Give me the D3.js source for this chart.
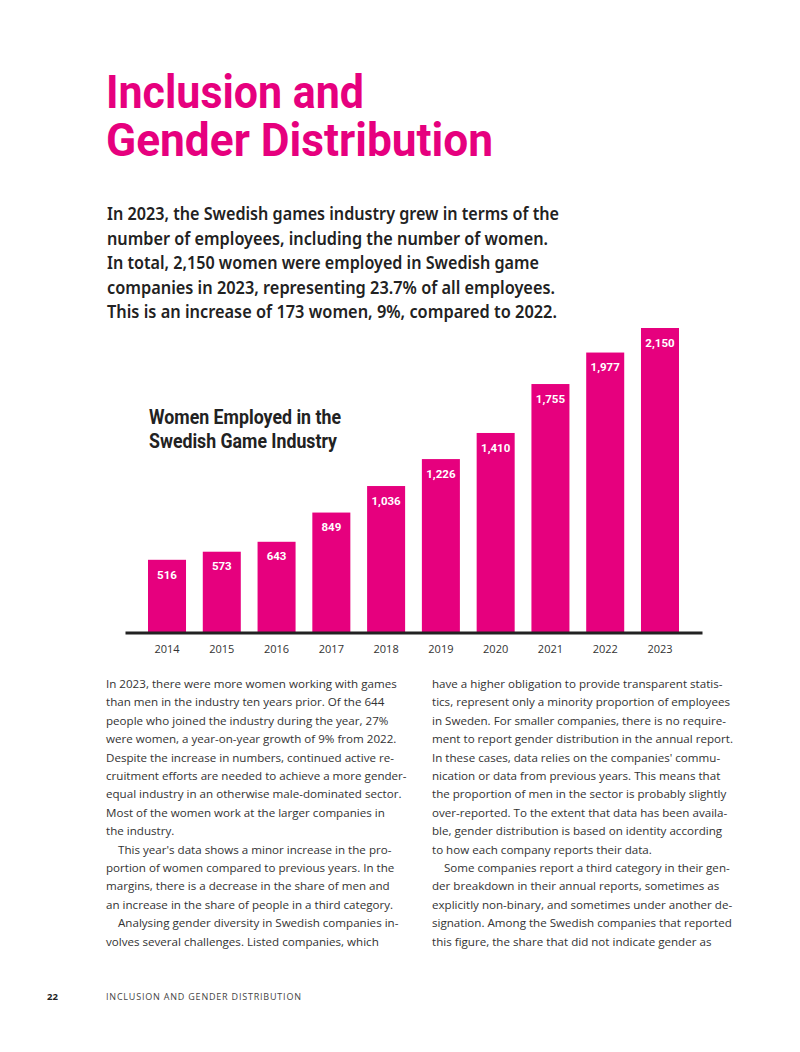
<!DOCTYPE html>
<html>
<head>
<meta charset="utf-8">
<script src="https://cdn.jsdelivr.net/npm/d3@7"></script>
<style>
  body { margin: 0; background: #fff; }
  svg { display: block; }
</style>
</head>
<body>
<div id="page"></div>
<script>
// chart data
const years = ["2014", "2015", "2016", "2017", "2018", "2019", "2020", "2021", "2022", "2023"];
const women = [516, 573, 643, 849, 1036, 1226, 1410, 1755, 1977, 2150];

const titleLines = ["Inclusion and", "Gender Distribution"];
const introLines = [
  "In 2023, the Swedish games industry grew in terms of the",
  "number of employees, including the number of women.",
  "In total, 2,150 women were employed in Swedish game",
  "companies in 2023, representing 23.7% of all employees.",
  "This is an increase of 173 women, 9%, compared to 2022."
];
const chartTitle = ["Women Employed in the", "Swedish Game Industry"];

// body text, [line, indented?]
const leftCol = [
  ["In 2023, there were more women working with games", 0],
  ["than men in the industry ten years prior. Of the 644", 0],
  ["people who joined the industry during the year, 27%", 0],
  ["were women, a year-on-year growth of 9% from 2022.", 0],
  ["Despite the increase in numbers, continued active re-", 0],
  ["cruitment efforts are needed to achieve a more gender-", 0],
  ["equal industry in an otherwise male-dominated sector.", 0],
  ["Most of the women work at the larger companies in", 0],
  ["the industry.", 0],
  ["This year's data shows a minor increase in the pro-", 1],
  ["portion of women compared to previous years. In the", 0],
  ["margins, there is a decrease in the share of men and", 0],
  ["an increase in the share of people in a third category.", 0],
  ["Analysing gender diversity in Swedish companies in-", 1],
  ["volves several challenges. Listed companies, which", 0]
];
const rightCol = [
  ["have a higher obligation to provide transparent statis-", 0],
  ["tics, represent only a minority proportion of employees", 0],
  ["in Sweden. For smaller companies, there is no require-", 0],
  ["ment to report gender distribution in the annual report.", 0],
  ["In these cases, data relies on the companies' commu-", 0],
  ["nication or data from previous years. This means that", 0],
  ["the proportion of men in the sector is probably slightly", 0],
  ["over-reported. To the extent that data has been availa-", 0],
  ["ble, gender distribution is based on identity according", 0],
  ["to how each company reports their data.", 0],
  ["Some companies report a third category in their gen-", 1],
  ["der breakdown in their annual reports, sometimes as", 0],
  ["explicitly non-binary, and sometimes under another de-", 0],
  ["signation. Among the Swedish companies that reported", 0],
  ["this figure, the share that did not indicate gender as", 0]
];

const pink = "#e6007e";
const dark = "#222";
const condensed = "Roboto, 'Liberation Sans', sans-serif";

const svg = d3.select("#page")
  .append("svg")
  .attr("width", 800)
  .attr("height", 1052);

// big title
svg.selectAll(".title")
  .data(titleLines)
  .join("text")
  .attr("class", "title")
  .attr("x", 106)
  .attr("y", (d, i) => 108 + i * 48)
  .attr("textLength", (d, i) => [258, 387][i])
  .attr("lengthAdjust", "spacingAndGlyphs")
  .style("font-family", condensed)
  .style("font-weight", 700)
  .style("font-size", "47px")
  .style("fill", pink)
  .text(d => d);

// intro paragraph
svg.selectAll(".intro")
  .data(introLines)
  .join("text")
  .attr("class", "intro")
  .attr("x", 107)
  .attr("y", (d, i) => 220 + i * 24.5)
  .attr("textLength", (d, i) => [452, 441, 432, 448, 450][i])
  .attr("lengthAdjust", "spacingAndGlyphs")
  .style("font-family", "'Noto Sans', sans-serif")
  .style("font-weight", 600)
  .style("font-size", "17px")
  .style("fill", dark)
  .text(d => d);

// chart
const x = d3.scaleBand()
  .domain(years)
  .range([125, 702])
  .paddingInner(0.306)
  .paddingOuter(0.42);

const y = d3.scaleLinear()
  .domain([0, 2150])
  .range([633, 328]);

svg.selectAll(".bar")
  .data(women)
  .join("rect")
  .attr("class", "bar")
  .attr("x", (d, i) => x(years[i]))
  .attr("y", d => y(d))
  .attr("width", x.bandwidth())
  .attr("height", d => y(0) - y(d))
  .attr("fill", pink);

svg.selectAll(".val")
  .data(women)
  .join("text")
  .attr("class", "val")
  .attr("x", (d, i) => x(years[i]) + x.bandwidth() / 2)
  .attr("y", d => y(d) + 18.7)
  .attr("text-anchor", "middle")
  .style("font-family", condensed)
  .style("font-weight", 700)
  .style("font-size", "11.5px")
  .style("fill", "#fff")
  .text(d => d3.format(",")(d));

// baseline + year labels
const xAxis = svg.append("g")
  .attr("transform", "translate(0,632.5)")
  .call(d3.axisBottom(x).tickSize(0).tickPadding(13));
xAxis.select(".domain")
  .attr("stroke", "#222")
  .attr("stroke-width", 3);
xAxis.selectAll("text")
  .style("font-family", "'Open Sans', sans-serif")
  .style("font-size", "11px")
  .style("fill", "#333");

svg.selectAll(".ctitle")
  .data(chartTitle)
  .join("text")
  .attr("class", "ctitle")
  .attr("x", 149)
  .attr("y", (d, i) => 423.5 + i * 24.2)
  .attr("textLength", (d, i) => [192, 188][i])
  .attr("lengthAdjust", "spacingAndGlyphs")
  .style("font-family", condensed)
  .style("font-weight", 700)
  .style("font-size", "19.5px")
  .style("fill", dark)
  .text(d => d);

// body columns
function column(lines, x0, cls) {
  svg.selectAll("." + cls)
    .data(lines)
    .join("text")
    .attr("class", cls)
    .attr("x", d => x0 + (d[1] ? 12 : 0))
    .attr("y", (d, i) => 688 + i * 18.4)
    .style("font-family", "'Open Sans', sans-serif")
    .style("font-size", "11.6px")
    .style("fill", "#333")
    .text(d => d[0]);
}
column(leftCol, 106, "lcol");
column(rightCol, 432, "rcol");

// footer
svg.append("text")
  .attr("x", 47)
  .attr("y", 1000)
  .style("font-family", "'Open Sans', sans-serif")
  .style("font-weight", 700)
  .style("font-size", "9.5px")
  .style("fill", dark)
  .text("22");

svg.append("text")
  .attr("x", 106)
  .attr("y", 1000)
  .attr("textLength", 195)
  .style("font-family", "'Open Sans', sans-serif")
  .style("font-size", "9px")
  .style("fill", "#444")
  .text("INCLUSION AND GENDER DISTRIBUTION");
</script>
</body>
</html>
